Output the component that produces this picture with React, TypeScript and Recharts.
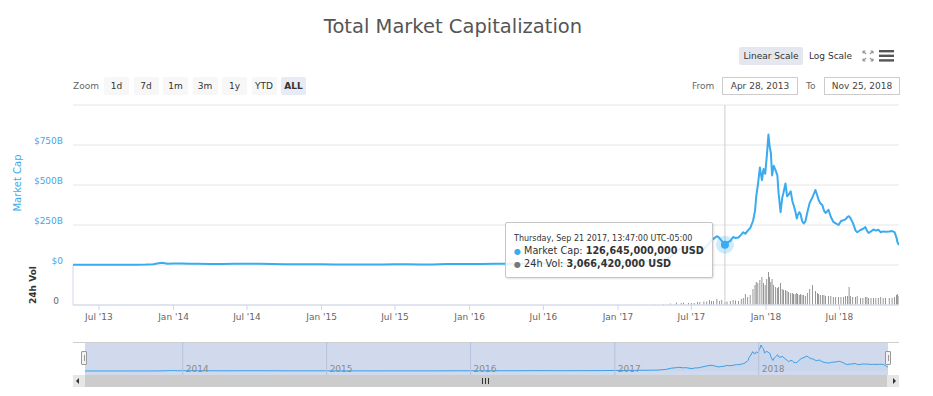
import React from 'react'
import {
  Area,
  AreaChart,
  Bar,
  BarChart,
  CartesianGrid,
  ComposedChart,
  Line,
  ReferenceLine,
  Tooltip,
  XAxis,
  YAxis,
} from 'recharts'

// daily snapshots (UTC); market cap and 24h volume in billions of USD
const dates = [
  '2013-04-28', '2013-05-15', '2013-06-01', '2013-06-20', '2013-07-05', '2013-08-01', '2013-09-01', '2013-10-01', '2013-10-25', '2013-11-12', '2013-11-25', '2013-12-04', '2013-12-10', '2013-12-18',
  '2014-01-01', '2014-01-20', '2014-02-10', '2014-03-01', '2014-04-01', '2014-05-01', '2014-06-01', '2014-07-01', '2014-08-01', '2014-09-01', '2014-10-01', '2014-11-01', '2014-12-01',
  '2015-01-01', '2015-02-01', '2015-03-01', '2015-04-01', '2015-05-01', '2015-06-01', '2015-07-01', '2015-08-01', '2015-09-01', '2015-10-01', '2015-11-05', '2015-12-01',
  '2016-01-01', '2016-02-01', '2016-03-01', '2016-04-01', '2016-05-01', '2016-06-01', '2016-06-18', '2016-07-01', '2016-08-01', '2016-09-01', '2016-10-01', '2016-11-01', '2016-12-01',
  '2017-01-01', '2017-02-01', '2017-03-01', '2017-04-01', '2017-04-23', '2017-05-10', '2017-05-25', '2017-06-06', '2017-06-12', '2017-06-24',
  '2017-07-01', '2017-07-08', '2017-07-16', '2017-07-22', '2017-08-01', '2017-08-08', '2017-08-15', '2017-08-20', '2017-08-25', '2017-09-02', '2017-09-08', '2017-09-14', '2017-09-21T18:47:00Z', '2017-09-27',
  '2017-10-05', '2017-10-12', '2017-10-18', '2017-10-25', '2017-11-01', '2017-11-06', '2017-11-11', '2017-11-17', '2017-11-23', '2017-11-30', '2017-12-05', '2017-12-08', '2017-12-12', '2017-12-17', '2017-12-22', '2017-12-26', '2017-12-30',
  '2018-01-03', '2018-01-07', '2018-01-10', '2018-01-13', '2018-01-16', '2018-01-20', '2018-01-25', '2018-01-29', '2018-02-01', '2018-02-06', '2018-02-10', '2018-02-13', '2018-02-18', '2018-02-22', '2018-02-26', '2018-03-03', '2018-03-07', '2018-03-10', '2018-03-14', '2018-03-18', '2018-03-20', '2018-03-24', '2018-03-27', '2018-03-31',
  '2018-04-04', '2018-04-08', '2018-04-13', '2018-04-19', '2018-04-26', '2018-05-03', '2018-05-08', '2018-05-11', '2018-05-15', '2018-05-20', '2018-05-24', '2018-05-28', '2018-06-04', '2018-06-10', '2018-06-16', '2018-06-22', '2018-06-29',
  '2018-07-05', '2018-07-11', '2018-07-16', '2018-07-21', '2018-07-25', '2018-07-28', '2018-08-03', '2018-08-10', '2018-08-14', '2018-08-22', '2018-08-28', '2018-09-03', '2018-09-07', '2018-09-11', '2018-09-17', '2018-09-23', '2018-09-29',
  '2018-10-05', '2018-10-11', '2018-10-17', '2018-10-23', '2018-11-01', '2018-11-08', '2018-11-14', '2018-11-19', '2018-11-21', '2018-11-25',
]

const marketCap = [
  1.5, 1.3, 1.4, 1.2, 1.0, 1.2, 1.6, 1.7, 2.6, 5.0, 10.5, 14.0, 11.5, 8.0,
  9.5, 10.0, 8.5, 8.0, 6.0, 6.2, 8.5, 8.2, 7.6, 6.8, 5.2, 4.8, 5.3,
  4.8, 3.6, 3.9, 3.6, 3.5, 3.6, 4.1, 4.3, 3.8, 3.9, 6.2, 6.3,
  7.0, 6.6, 7.5, 7.6, 8.3, 10.8, 12.4, 11.5, 10.2, 10.0, 10.5, 12.0, 13.5,
  17.7, 18.5, 22.5, 25.0, 31, 50, 90, 105, 115, 100,
  105, 90, 75, 95, 100, 120, 140, 155, 165, 180, 170, 150, 126.645, 140,
  150, 175, 169, 172, 190, 205, 195, 215, 231, 275, 340, 430, 500, 610, 530, 600, 570,
  680, 815, 740, 700, 560, 620, 590, 560, 450, 330, 420, 450, 510, 430, 440, 460, 400, 375, 340, 290, 310, 330, 320, 275,
  260, 270, 330, 390, 425, 469, 430, 405, 385, 375, 340, 325, 345, 300, 270, 260, 250,
  275, 280, 285, 300, 305, 294, 265, 215, 205, 219, 225, 237, 215, 200, 210, 222, 215,
  220, 205, 210, 208, 210, 212, 205, 170, 144, 125,
]

const volume24h = [
  0.02, 0.02, 0.02, 0.01, 0.01, 0.02, 0.02, 0.02, 0.05, 0.1, 0.3, 0.4, 0.3, 0.3,
  0.2, 0.1, 0.1, 0.1, 0.1, 0.05, 0.05, 0.05, 0.04, 0.04, 0.04, 0.03, 0.03,
  0.03, 0.03, 0.03, 0.03, 0.03, 0.03, 0.03, 0.03, 0.03, 0.04, 0.1, 0.05,
  0.05, 0.05, 0.05, 0.05, 0.05, 0.1, 0.2, 0.1, 0.1, 0.1, 0.1, 0.1, 0.1,
  0.3, 0.2, 0.3, 0.4, 0.8, 1.5, 2.5, 2, 2.5, 2,
  2, 2, 3, 3, 3.5, 3.5, 5, 4, 4, 6, 4, 5, 3.06642, 3.5,
  4, 5, 4.5, 4, 6, 7, 11, 8, 10, 16, 20, 23, 22, 25, 28, 22, 20,
  26, 33, 28, 23, 26, 20, 18, 17, 18, 22, 16, 15, 15, 14, 13, 12, 12, 11, 11, 12, 11, 10, 11, 10,
  10, 9, 12, 16, 20, 14, 12, 11, 10, 10, 10, 9, 9, 9, 8, 8, 8,
  8, 8, 9, 9, 18, 9, 8, 8, 9, 7, 7, 8, 8, 7, 7, 7, 7,
  7, 8, 7, 7, 7, 7, 8, 10, 11, 9,
]

const capTicks = [0, 250, 500, 750]
const volTicks = [0]
const timeTicks = ['2013-07-01', '2014-01-01', '2014-07-01', '2015-01-01', '2015-07-01', '2016-01-01', '2016-07-01', '2017-01-01', '2017-07-01', '2018-01-01', '2018-07-01']
const navigatorYears = ['2014', '2015', '2016', '2017', '2018']
const zoomButtons = ['1d', '7d', '1m', '3m', '1y', 'YTD', 'ALL']
const hoverDate = '2017-09-21T18:47:00Z'

const BLUE = '#3aabf0'
const FONT = '"DejaVu Sans", "Lucida Grande", sans-serif'
const MONTHS = ['Jan', 'Feb', 'Mar', 'Apr', 'May', 'Jun', 'Jul', 'Aug', 'Sep', 'Oct', 'Nov', 'Dec']
const DAYS = ['Sunday', 'Monday', 'Tuesday', 'Wednesday', 'Thursday', 'Friday', 'Saturday']

// both panes share the same plot box
const PANE_MARGIN = { top: 105, right: 34, bottom: 5, left: 13 }

const toTs = (d: string) => Date.parse(d.length === 10 ? `${d}T00:00:00Z` : d)

const rows = dates.map((d, i) => ({ t: toTs(d), cap: marketCap[i], vol: volume24h[i] }))
const firstT = rows[0].t
const lastT = rows[rows.length - 1].t
const hoverIndex = dates.indexOf(hoverDate)

const fmtAxisDate = (t: number) => {
  const d = new Date(t)
  return `${MONTHS[d.getUTCMonth()]} '${String(d.getUTCFullYear()).slice(2)}`
}
const fmtCap = (v: number) => (v === 0 ? '$0' : `$${v}B`)
const fmtUsd = (b: number) => Math.round(b * 1e9).toLocaleString('en-US')
const pad = (n: number) => String(n).padStart(2, '0')
const fmtTooltipDate = (t: number) => {
  const d = new Date(t - 5 * 3600 * 1000)
  return `${DAYS[d.getUTCDay()]}, ${MONTHS[d.getUTCMonth()]} ${d.getUTCDate()} ${d.getUTCFullYear()}, ${pad(d.getUTCHours())}:${pad(d.getUTCMinutes())}:${pad(d.getUTCSeconds())} UTC-05:00`
}

const axisTick = (fill: string, fmt: (v: number) => string) => (p: any) => (
  <text x={p.x} y={p.y - 4} dy="0.35em" textAnchor="end" fontSize={9} fill={fill} fontFamily={FONT}>
    {fmt(p.payload.value)}
  </text>
)

const activeDot = (p: any) => (
  <g key="hover-dot">
    <circle cx={p.cx} cy={p.cy} r={9} fill={BLUE} fillOpacity={0.25} />
    <circle cx={p.cx} cy={p.cy} r={4} fill={BLUE} />
  </g>
)

const CapTooltip = ({ payload, label }: any) => {
  if (!payload || !payload.length) return null
  const row = payload[0].payload
  const t = label ?? row.t
  return (
    <div
      style={{
        width: 208,
        height: 56,
        boxSizing: 'border-box',
        background: 'rgba(255,255,255,0.85)',
        border: '1px solid #c6c6c6',
        borderRadius: 2,
        boxShadow: '1px 1px 2px rgba(0,0,0,0.12)',
        padding: '10px 0 0 8px',
        fontFamily: FONT,
        color: '#333',
        whiteSpace: 'nowrap',
      }}
    >
      <div style={{ fontSize: 8, lineHeight: '12px' }}>{fmtTooltipDate(t)}</div>
      <div style={{ fontSize: 9.7, lineHeight: '12px' }}>
        <span style={{ color: BLUE, fontSize: 8 }}>●</span> Market Cap: <b>{fmtUsd(row.cap)} USD</b>
      </div>
      <div style={{ fontSize: 9.7, lineHeight: '12px' }}>
        <span style={{ color: '#777', fontSize: 8 }}>●</span> 24h Vol: <b>{fmtUsd(row.vol)} USD</b>
      </div>
    </div>
  )
}

const abs = (left: number, top: number, extra: React.CSSProperties = {}): React.CSSProperties => ({
  position: 'absolute',
  left,
  top,
  ...extra,
})

const btn = (left: number, top: number, width: number, bg: string, bold = false): React.CSSProperties =>
  abs(left, top, {
    width,
    height: 18,
    lineHeight: '18px',
    textAlign: 'center',
    background: bg,
    borderRadius: 2,
    fontSize: 9,
    color: '#333',
    fontWeight: bold ? 'bold' : 'normal',
  })

const rotated = (cx: number, cy: number, extra: React.CSSProperties): React.CSSProperties =>
  abs(cx, cy, { transform: 'translate(-50%, -50%) rotate(-90deg)', whiteSpace: 'nowrap', ...extra })

export default function App() {
  return (
    <div style={{ position: 'absolute', left: 0, top: 0, width: 933, height: 396, background: '#fff', fontFamily: FONT, overflow: 'hidden' }}>
      <div style={abs(0, 16, { width: 906, textAlign: 'center', fontSize: 19.5, lineHeight: '22px', color: '#555' })}>
        Total Market Capitalization
      </div>

      {/* scale toggles */}
      <div style={btn(739, 47, 64, '#e4e8ee')}>Linear Scale</div>
      <div style={abs(809, 47, { height: 18, lineHeight: '18px', fontSize: 9, color: '#333' })}>Log Scale</div>
      <svg style={abs(862, 50)} width={12} height={12}>
        <g stroke="#999" strokeWidth={1.2}>
          <path d="M1 1 L4 4 M1 1 L1 3.5 M1 1 L3.5 1" />
          <path d="M11 1 L8 4 M11 1 L11 3.5 M11 1 L8.5 1" />
          <path d="M1 11 L4 8 M1 11 L1 8.5 M1 11 L3.5 11" />
          <path d="M11 11 L8 8 M11 11 L11 8.5 M11 11 L8.5 11" />
        </g>
      </svg>
      <svg style={abs(879, 50)} width={15} height={12}>
        <g fill="#555">
          <rect x={0} y={0} width={15} height={2.4} />
          <rect x={0} y={4.6} width={15} height={2.4} />
          <rect x={0} y={9.2} width={15} height={2.4} />
        </g>
      </svg>

      {/* range selector */}
      <div style={abs(73, 77, { height: 18, lineHeight: '18px', fontSize: 9, color: '#666' })}>Zoom</div>
      {zoomButtons.map((b, i) => (
        <div key={b} style={btn(104 + i * 29.5, 77, 25, b === 'ALL' ? '#e6ebf5' : '#f7f7f7', b === 'ALL')}>
          {b}
        </div>
      ))}
      <div style={abs(692, 77, { height: 18, lineHeight: '18px', fontSize: 9, color: '#666' })}>From</div>
      <div style={abs(722, 77, { width: 76, height: 18, boxSizing: 'border-box', border: '1px solid #ccc', lineHeight: '16px', textAlign: 'center', fontSize: 9, color: '#444' })}>
        Apr 28, 2013
      </div>
      <div style={abs(806, 77, { height: 18, lineHeight: '18px', fontSize: 9, color: '#666' })}>To</div>
      <div style={abs(824, 77, { width: 76, height: 18, boxSizing: 'border-box', border: '1px solid #ccc', lineHeight: '16px', textAlign: 'center', fontSize: 9, color: '#444' })}>
        Nov 25, 2018
      </div>

      {/* axis titles */}
      <div style={rotated(17, 183, { fontSize: 10, color: BLUE })}>Market Cap</div>
      <div style={rotated(33, 285, { fontSize: 9, color: '#333', fontWeight: 'bold' })}>24h Vol</div>

      {/* volume pane (drawn underneath the market cap pane, same plot box) */}
      <div style={abs(0, 0)}>
        <BarChart width={933} height={340} data={rows} margin={{ ...PANE_MARGIN, bottom: 35 }}>
          <XAxis dataKey="t" type="number" domain={[firstT, lastT]} allowDataOverflow hide />
          <YAxis
            width={60}
            domain={[0, 200]}
            allowDataOverflow
            ticks={volTicks}
            tick={axisTick('#666', (v) => String(v))}
            axisLine={false}
            tickLine={false}
            tickSize={0}
            tickMargin={14}
          />
          <ReferenceLine
            ifOverflow="visible"
            segment={[
              { x: firstT, y: 0 },
              { x: firstT, y: 40 },
            ]}
            stroke="#ccd6eb"
          />
          <Bar dataKey="vol" fill="#707070" barSize={3} isAnimationActive={false} />
        </BarChart>
      </div>

      {/* market cap pane */}
      <div style={abs(0, 0)}>
        <ComposedChart width={933} height={340} data={rows} margin={PANE_MARGIN}>
          <CartesianGrid vertical={false} stroke="#e6e6e6" />
          <XAxis
            dataKey="t"
            type="number"
            domain={[firstT, lastT]}
            allowDataOverflow
            ticks={timeTicks.map(toTs)}
            tickFormatter={fmtAxisDate}
            tick={{ fontSize: 9, fill: '#666', fontFamily: FONT }}
            tickSize={5}
            tickMargin={4}
            stroke="#ccd6eb"
          />
          <YAxis
            width={60}
            domain={[-250, 1000]}
            allowDataOverflow
            ticks={capTicks}
            tick={axisTick('#45a7ec', fmtCap)}
            axisLine={false}
            tickLine={false}
            tickSize={0}
            tickMargin={10}
          />
          <Line
            dataKey="cap"
            type="linear"
            stroke={BLUE}
            strokeWidth={2}
            strokeLinejoin="round"
            dot={false}
            activeDot={activeDot}
            isAnimationActive={false}
          />
          <Tooltip
            defaultIndex={hoverIndex}
            active
            isAnimationActive={false}
            position={{ x: 505, y: 222 }}
            cursor={{ stroke: '#cccccc', strokeWidth: 1 }}
            content={<CapTooltip />}
          />
        </ComposedChart>
      </div>

      {/* navigator */}
      <div style={abs(73, 342, { width: 826, height: 1, background: '#cfcfcf' })} />
      <div style={abs(85, 343, { width: 803, height: 32, background: 'rgba(102,133,194,0.3)' })} />
      <div style={abs(85, 342)}>
        <AreaChart width={803} height={33} data={rows} margin={{ top: 0, right: 0, bottom: 0, left: 0 }}>
          <XAxis dataKey="t" type="number" domain={[firstT, lastT]} hide />
          <YAxis domain={[-125, 910]} allowDataOverflow hide />
          {navigatorYears.map((y) => (
            <ReferenceLine
              key={y}
              x={toTs(`${y}-01-01`)}
              stroke="#b7c1dc"
              label={{ value: y, position: 'insideBottomLeft', offset: 3, fill: '#8a8a8a', fontSize: 9, fontFamily: FONT }}
            />
          ))}
          <Area
            dataKey="cap"
            type="linear"
            stroke="#3a9fe6"
            strokeWidth={1}
            fill="#3a9fe6"
            fillOpacity={0.05}
            dot={false}
            activeDot={false}
            isAnimationActive={false}
          />
        </AreaChart>
      </div>
      {[81, 885].map((x) => (
        <div key={x} style={abs(x, 351, { width: 6, height: 14, boxSizing: 'border-box', background: '#f2f2f2', border: '1px solid #999', borderRadius: 1 })}>
          <div style={abs(2, 3, { width: 1, height: 6, background: '#999' })} />
        </div>
      ))}

      {/* scrollbar */}
      <div style={abs(73, 375, { width: 826, height: 12, background: '#f2f2f2' })} />
      <div style={abs(85, 375, { width: 802, height: 12, background: '#cccccc' })} />
      <div style={abs(73, 375, { width: 12, height: 12, background: '#e6e6e6' })}>
        <div style={abs(3, 3, { width: 0, height: 0, borderTop: '3px solid transparent', borderBottom: '3px solid transparent', borderRight: '3px solid #333' })} />
      </div>
      <div style={abs(887, 375, { width: 12, height: 12, background: '#e6e6e6' })}>
        <div style={abs(6, 3, { width: 0, height: 0, borderTop: '3px solid transparent', borderBottom: '3px solid transparent', borderLeft: '3px solid #333' })} />
      </div>
      {[0, 1, 2].map((i) => (
        <div key={i} style={abs(482 + i * 3, 378, { width: 1, height: 6, background: '#333' })} />
      ))}
    </div>
  )
}
